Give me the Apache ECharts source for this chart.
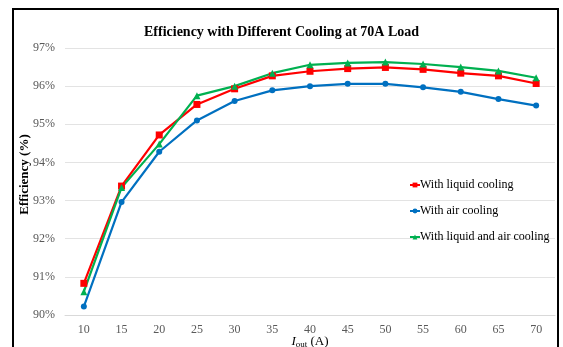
<!DOCTYPE html>
<html>
<head>
<meta charset="utf-8">
<script src="https://cdn.jsdelivr.net/npm/echarts@6/dist/echarts.min.js"></script>
<style>
  html, body { margin: 0; padding: 0; background: #fff; }
  #chart { width: 563px; height: 347px; }
</style>
</head>
<body>
<div id="chart"></div>
<script>
// output current (A)
const currents = ['10', '15', '20', '25', '30', '35', '40', '45', '50', '55', '60', '65', '70']
// efficiency (%)
const liquidCooling = [90.83, 93.38, 94.72, 95.52, 95.93, 96.27, 96.39, 96.46, 96.49, 96.44, 96.34, 96.27, 96.07]
const airCooling = [90.22, 92.96, 94.28, 95.10, 95.61, 95.89, 96.00, 96.06, 96.06, 95.97, 95.85, 95.66, 95.49]
const liquidAndAir = [90.61, 93.34, 94.48, 95.75, 96.00, 96.34, 96.56, 96.61, 96.63, 96.58, 96.50, 96.40, 96.22]

const serif = '"Liberation Serif", "DejaVu Serif", serif'
const myChart = echarts.init(document.getElementById('chart'))

const mkSeries = (name, data, color, symbol, size) => ({
  name,
  type: 'line',
  data,
  symbol,
  symbolSize: size,
  showAllSymbol: true,
  itemStyle: { color },
  lineStyle: { color, width: 2.2 },
  emphasis: { disabled: true }
})

let option = {
  animation: false,
  backgroundColor: '#fff',
  textStyle: { fontFamily: serif },
  title: {
    text: 'Efficiency with Different Cooling at 70A Load',
    left: 'center',
    top: 20,
    textStyle: { fontFamily: serif, fontSize: 14, fontWeight: 'bold', color: '#000' }
  },
  graphic: [
    {
      type: 'rect',
      shape: { x: 13, y: 9, width: 545, height: 360 },
      style: { fill: 'none', stroke: '#000', lineWidth: 2 },
      silent: true
    }
  ],
  legend: {
    orient: 'vertical',
    left: 404,
    top: 174,
    itemWidth: 10,
    itemHeight: 6,
    itemGap: 14,
    textStyle: { fontFamily: serif, fontSize: 12, color: '#000', padding: [0, 0, 0, -5] },
    data: ['With liquid cooling', 'With air cooling', 'With liquid and air cooling']
  },
  grid: { left: 65, right: 8, top: 48, bottom: 32, outerBoundsMode: 'none', containLabel: false },
  xAxis: {
    type: 'category',
    data: currents,
    name: '{i|I}{sub|out} (A)',
    nameLocation: 'middle',
    nameGap: 19,
    nameMoveOverlap: false,
    nameTextStyle: {
      fontFamily: serif,
      fontSize: 13,
      color: '#000',
      rich: {
        i: { fontFamily: serif, fontStyle: 'italic', fontSize: 13, color: '#000' },
        sub: { fontFamily: serif, fontSize: 9, color: '#000', verticalAlign: 'bottom', padding: [6, 0, 0, 0] }
      }
    },
    axisLine: { lineStyle: { color: '#d9d9d9' } },
    axisTick: { show: false },
    axisLabel: { fontFamily: serif, fontSize: 12, color: '#595959', margin: 9 }
  },
  yAxis: {
    type: 'value',
    min: 90,
    max: 97,
    interval: 1,
    name: 'Efficiency (%)',
    nameLocation: 'middle',
    nameGap: 34,
    nameMoveOverlap: false,
    nameTextStyle: { fontFamily: serif, fontSize: 13, fontWeight: 'bold', color: '#000', padding: [0, 0, 0, 14] },
    axisLine: { show: false },
    axisTick: { show: false },
    axisLabel: { fontFamily: serif, fontSize: 12, color: '#595959', margin: 10, formatter: '{value}%' },
    splitLine: { lineStyle: { color: '#e3e3e3' } }
  },
  series: [
    mkSeries('With liquid cooling', liquidCooling, '#ff0000', 'rect', 7),
    mkSeries('With air cooling', airCooling, '#0070c0', 'circle', 6),
    mkSeries('With liquid and air cooling', liquidAndAir, '#00b050', 'triangle', 7)
  ]
}
myChart.setOption(option)
</script>
</body>
</html>
